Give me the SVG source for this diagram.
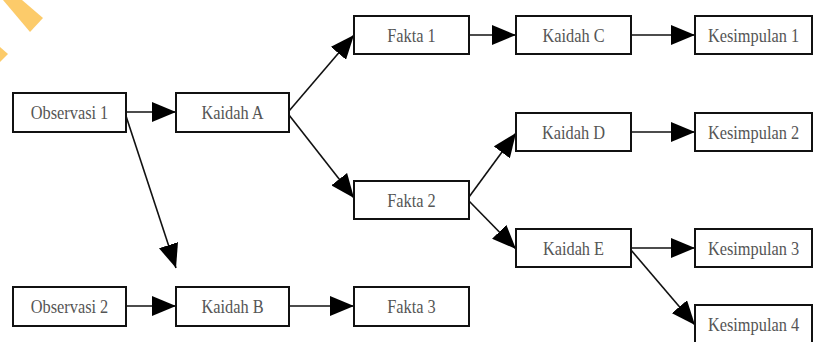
<svg xmlns="http://www.w3.org/2000/svg" width="816" height="342" viewBox="0 0 816 342">
<defs>
<style>
.box{fill:#fff;stroke:#111;stroke-width:2}
.lbl{font-family:"Liberation Serif","Times New Roman",serif;font-size:19px;fill:#555;text-anchor:middle}
.edge{stroke:#111;stroke-width:1.6;fill:none;marker-end:url(#ah)}
</style>
<marker id="ah" viewBox="0 0 24 20" refX="24" refY="10" markerWidth="24" markerHeight="20" markerUnits="userSpaceOnUse" orient="auto">
<path d="M0,0 L24,10 L0,20 z" fill="#000"/>
</marker>
</defs>
<rect width="816" height="342" fill="#fff"/>
<g id="watermark" fill="#fccb6a">
<polygon points="3,0 22,0 43,18 30,32"/>
<polygon points="0,47 8,54 0,62"/>
</g>
<g id="connectors">
<line class="edge" x1="126" y1="112" x2="176" y2="112"/>
<line class="edge" x1="126" y1="116" x2="176" y2="268"/>
<line class="edge" x1="289" y1="111" x2="354" y2="35"/>
<line class="edge" x1="289" y1="115" x2="354" y2="198"/>
<line class="edge" x1="469" y1="35" x2="516" y2="35"/>
<line class="edge" x1="631" y1="35" x2="695" y2="35"/>
<line class="edge" x1="469" y1="197" x2="516" y2="133"/>
<line class="edge" x1="469" y1="201" x2="516" y2="249"/>
<line class="edge" x1="631" y1="132" x2="695" y2="132"/>
<line class="edge" x1="631" y1="248" x2="695" y2="248"/>
<line class="edge" x1="631" y1="250" x2="695" y2="325"/>
<line class="edge" x1="126" y1="306" x2="176" y2="306"/>
<line class="edge" x1="289" y1="306" x2="354" y2="306"/>
</g>
<g id="observasi1"><rect class="box" x="13" y="93" width="113" height="39"/><text class="lbl" transform="translate(69.5,118.5) scale(0.86,1)">Observasi 1</text></g>
<g id="kaidahA"><rect class="box" x="176" y="93" width="113" height="39"/><text class="lbl" transform="translate(232.5,118.5) scale(0.86,1)">Kaidah A</text></g>
<g id="fakta1"><rect class="box" x="354" y="16" width="115" height="38"/><text class="lbl" transform="translate(411.5,41.5) scale(0.86,1)">Fakta 1</text></g>
<g id="kaidahC"><rect class="box" x="516" y="16" width="115" height="38"/><text class="lbl" transform="translate(573.5,41.5) scale(0.86,1)">Kaidah C</text></g>
<g id="kesimpulan1"><rect class="box" x="695" y="16" width="117" height="38"/><text class="lbl" transform="translate(753.5,41.5) scale(0.86,1)">Kesimpulan 1</text></g>
<g id="kaidahD"><rect class="box" x="516" y="113" width="115" height="38"/><text class="lbl" transform="translate(573.5,138.5) scale(0.86,1)">Kaidah D</text></g>
<g id="kesimpulan2"><rect class="box" x="695" y="113" width="117" height="38"/><text class="lbl" transform="translate(753.5,138.5) scale(0.86,1)">Kesimpulan 2</text></g>
<g id="fakta2"><rect class="box" x="354" y="181" width="115" height="38"/><text class="lbl" transform="translate(411.5,206.5) scale(0.86,1)">Fakta 2</text></g>
<g id="kaidahE"><rect class="box" x="516" y="229" width="115" height="38"/><text class="lbl" transform="translate(573.5,254.5) scale(0.86,1)">Kaidah E</text></g>
<g id="kesimpulan3"><rect class="box" x="695" y="229" width="117" height="38"/><text class="lbl" transform="translate(753.5,254.5) scale(0.86,1)">Kesimpulan 3</text></g>
<g id="kesimpulan4"><rect class="box" x="695" y="305" width="117" height="39"/><text class="lbl" transform="translate(753.5,331) scale(0.86,1)">Kesimpulan 4</text></g>
<g id="observasi2"><rect class="box" x="13" y="287" width="113" height="39"/><text class="lbl" transform="translate(69.5,312.5) scale(0.86,1)">Observasi 2</text></g>
<g id="kaidahB"><rect class="box" x="176" y="287" width="113" height="39"/><text class="lbl" transform="translate(232.5,312.5) scale(0.86,1)">Kaidah B</text></g>
<g id="fakta3"><rect class="box" x="354" y="287" width="115" height="39"/><text class="lbl" transform="translate(411.5,312.5) scale(0.86,1)">Fakta 3</text></g>
</svg>
